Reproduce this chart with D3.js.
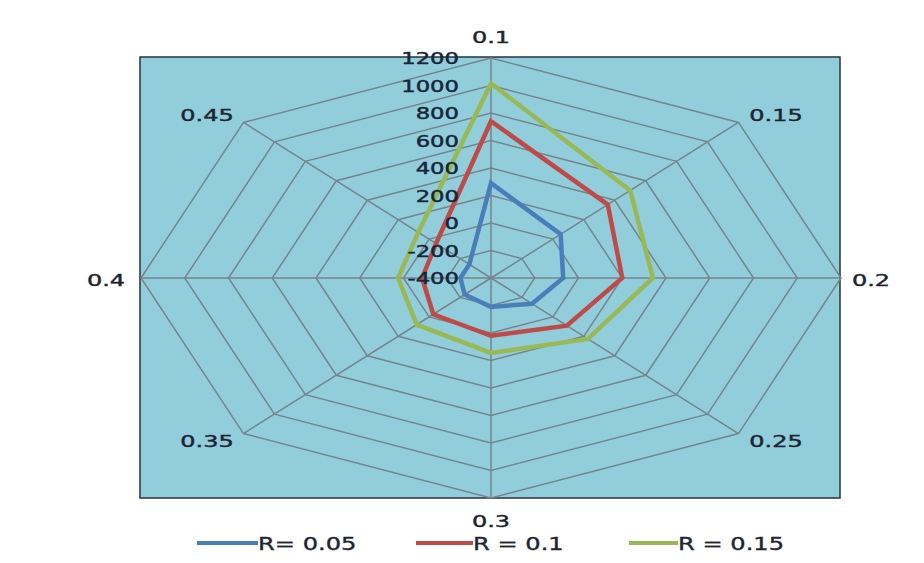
<!DOCTYPE html>
<html>
<head>
<meta charset="utf-8">
<script src="https://cdn.jsdelivr.net/npm/d3@7"></script>
<style>
  body { margin: 0; background: #fff; }
  text { font-family: "DejaVu Sans", Verdana, sans-serif; }
</style>
</head>
<body>
<svg id="chart" width="924" height="563"></svg>
<script>
// categories round the radar (clockwise from top)
const categories = ["0.1", "0.15", "0.2", "0.25", "0.3", "0.35", "0.4", "0.45"];
const ticks = [-400, -200, 0, 200, 400, 600, 800, 1000, 1200];
const seriesNames = ["R= 0.05", "R = 0.1", "R = 0.15"];
const r005 = [290, 50, -70, -135, -190, -230, -260, -260];
const r010 = [740, 355, 200, 90, 20, -27, -85, -45];
const r015 = [1015, 500, 340, 227, 145, 80, 25, 70];
const colors = ["#4A7EBB", "#BE4B48", "#98B954"];

const svg = d3.select("#chart");
const cx = 491, cy = 278, rx = 350, ry = 220;
const sx = 1.42; // the picture is stretched sideways, text too

const r = d3.scaleLinear().domain([-400, 1200]).range([0, 1]);
const ang = d3.scalePoint().domain(categories).range([0, 2 * Math.PI * 7 / 8]);

function pt(cat, v) {
    const a = ang(cat), k = r(v);
    return [cx + rx * k * Math.sin(a), cy - ry * k * Math.cos(a)];
}

// plot area
svg.append("rect")
    .attr("x", 140).attr("y", 57).attr("width", 700).attr("height", 441)
    .attr("fill", "#92CDDC")
    .attr("stroke", "#26343c").attr("stroke-width", 1.5);

// grid rings
const ring = d3.line().curve(d3.curveLinearClosed);
svg.selectAll(".ring")
    .data(ticks.slice(1)).enter()
    .append("path")
    .attr("d", t => ring(categories.map(c => pt(c, t))))
    .attr("fill", "none")
    .attr("stroke", "#76858c").attr("stroke-width", 1.5);

// spokes
svg.selectAll(".spoke")
    .data(categories).enter()
    .append("line")
    .attr("x1", cx).attr("y1", cy)
    .attr("x2", c => pt(c, 1200)[0]).attr("y2", c => pt(c, 1200)[1])
    .attr("stroke", "#76858c").attr("stroke-width", 1.5);

// series
const data = [r005, r010, r015];
svg.selectAll(".series")
    .data(data).enter()
    .append("path")
    .attr("d", d => ring(d.map((v, i) => pt(categories[i], v))))
    .attr("fill", "none")
    .attr("stroke", (d, i) => colors[i])
    .attr("stroke-width", 4.5)
    .attr("stroke-linejoin", "miter");

// radial tick labels
svg.selectAll(".tick")
    .data(ticks).enter()
    .append("text")
    .attr("transform", t => "translate(459," + (cy - ry * r(t) + 6) + ") scale(" + sx + ",1)")
    .attr("text-anchor", "end")
    .attr("font-size", 16)
    .attr("fill", "#16263a").attr("stroke", "#16263a").attr("stroke-width", 0.45)
    .text(t => t);

// category labels
const labelPos = {
    "0.1": [491, 43], "0.15": [776, 121], "0.2": [871, 286], "0.25": [776, 447],
    "0.3": [491, 527], "0.35": [207, 447], "0.4": [106, 286], "0.45": [207, 121]
};
svg.selectAll(".cat")
    .data(categories).enter()
    .append("text")
    .attr("transform", c => "translate(" + labelPos[c][0] + "," + labelPos[c][1] + ") scale(1.5,1)")
    .attr("text-anchor", "middle")
    .attr("font-size", 16)
    .attr("fill", "#1e2430").attr("stroke", "#1e2430").attr("stroke-width", 0.4)
    .text(c => c);

// legend
const legX = [197, 416, 629], legLen = [61, 57, 49];
const leg = svg.selectAll(".leg")
    .data(seriesNames).enter()
    .append("g")
    .attr("transform", (d, i) => "translate(" + legX[i] + ",543)");
leg.append("line")
    .attr("x1", 0).attr("x2", (d, i) => legLen[i]).attr("y1", 0).attr("y2", 0)
    .attr("stroke", (d, i) => colors[i]).attr("stroke-width", 4);
leg.append("text")
    .attr("transform", (d, i) => "translate(" + legLen[i] + ",6.5) scale(1.42,1)")
    .attr("font-size", 17)
    .attr("fill", "#1e2430").attr("stroke", "#1e2430").attr("stroke-width", 0.35)
    .text(d => d);
</script>
</body>
</html>
